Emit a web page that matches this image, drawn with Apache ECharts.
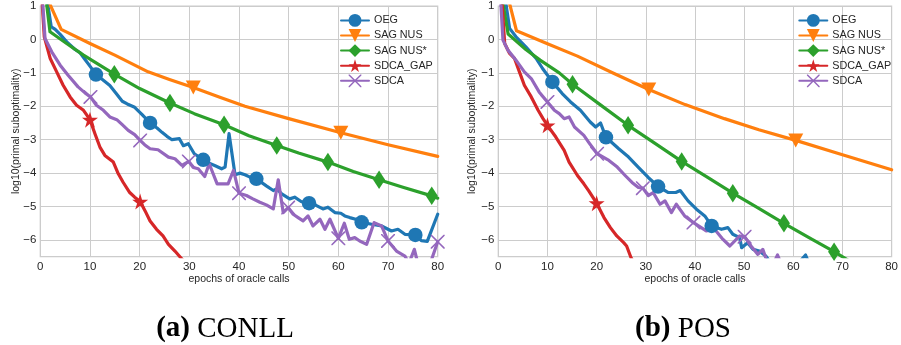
<!DOCTYPE html>
<html><head><meta charset="utf-8">
<script src="https://cdn.jsdelivr.net/npm/echarts@6/dist/echarts.min.js"></script>
<style>html,body{margin:0;padding:0;background:#fff}#c{width:901px;height:345px}</style>
</head><body><div id="c"></div>
<script>
// ---------- data ----------
const seriesNames = ['OEG', 'SAG NUS', 'SAG NUS*', 'SDCA_GAP', 'SDCA'];
const xTicks = [0, 10, 20, 30, 40, 50, 60, 70, 80];
const yTicks = [-6, -5, -4, -3, -2, -1, 0, 1];
const xLabel = 'epochs of oracle calls';
const yLabel = 'log10(primal suboptimality)';
const captions = ['(a)', 'CONLL', '(b)', 'POS'];

// (a) CONLL  — [epoch, log10 suboptimality]
const oegL = [[0,2.5],[2.2,0.38],[3,0.3],[4,0.15],[5.5,-0.1],[7,-0.3],[8,-0.4],[9,-0.6],[10,-0.8],[11.2,-1.05],[12.5,-1.2],[14,-1.38],[15.2,-1.6],[16.5,-1.85],[17.5,-1.93],[19,-2.03],[20.5,-2.25],[22.1,-2.5],[23.5,-2.65],[24.5,-2.78],[25.5,-2.9],[26.5,-3.0],[28,-2.97],[28.8,-3.18],[29.8,-3.12],[31,-3.42],[32.8,-3.6],[34,-3.7],[35.2,-3.78],[36.5,-3.87],[37.2,-3.82],[38,-2.82],[39.2,-4.05],[40.2,-4.0],[41.2,-4.05],[42.2,-4.12],[43.5,-4.17],[45.5,-4.38],[46.9,-4.52],[47.6,-4.47],[48.6,-4.62],[50.2,-4.77],[51.2,-4.72],[52.5,-4.85],[54.1,-4.9],[55.6,-4.97],[56.9,-5.07],[57.9,-5.02],[59.3,-5.18],[60.5,-5.2],[61.3,-5.28],[62.3,-5.33],[63.5,-5.38],[64.7,-5.47],[66.7,-5.53],[68.7,-5.58],[70.7,-5.73],[72,-5.68],[73.4,-5.83],[75.5,-5.85],[76.7,-6.02],[77.9,-6.04],[80,-5.23]];
const oegLMarks = [11.2, 22.1, 32.8, 43.5, 54.1, 64.7, 75.5];
const sagL = [[0,1.7],[4.2,0.3],[10,-0.12],[15,-0.47],[21.7,-0.97],[26,-1.2],[30.8,-1.44],[36,-1.72],[41.2,-2.0],[50,-2.37],[60.5,-2.79],[70,-3.15],[80,-3.5]];
const sagLMarks = [30.8, 60.5];
const sagStarL = [[0,2.6],[1.95,0.23],[5.3,-0.12],[8.7,-0.47],[14.9,-1.04],[20,-1.47],[26.1,-1.9],[31,-2.22],[37,-2.55],[42,-2.88],[47.6,-3.17],[52,-3.4],[57.9,-3.67],[63,-3.95],[68.2,-4.2],[73,-4.42],[78.8,-4.68],[80,-4.75]];
const sagStarLMarks = [14.9, 26.1, 37, 47.6, 57.9, 68.2, 78.8];
const gapL = [[0,2.0],[0.8,0.08],[2,-0.57],[3.3,-0.97],[4.6,-1.37],[6,-1.72],[7.3,-1.97],[8.7,-2.12],[10,-2.4],[11,-2.82],[12,-3.22],[13,-3.47],[14.7,-3.67],[15.7,-4.02],[16.7,-4.28],[18,-4.58],[19,-4.72],[20.1,-4.85],[21.1,-5.13],[22.1,-5.43],[23.4,-5.68],[24.7,-5.88],[25.8,-6.13],[27.1,-6.33],[28.1,-6.5],[29,-6.65],[30,-6.8]];
const gapLMarks = [10, 20.1];
const sdcaL = [[0,2.2],[0.95,0.03],[2.3,-0.37],[4,-0.77],[5.6,-1.07],[7.6,-1.42],[9,-1.6],[10.1,-1.72],[11.3,-1.97],[12.7,-2.12],[14,-2.32],[15.4,-2.4],[16.5,-2.55],[17.7,-2.72],[19,-2.85],[20.1,-3.02],[21,-3.15],[22.1,-3.27],[23.7,-3.3],[25.8,-3.52],[27.1,-3.57],[28.5,-3.77],[29.9,-3.65],[30.8,-3.83],[31.8,-3.87],[33.1,-4.1],[34,-3.72],[35.6,-4.32],[37.8,-4.32],[38.9,-3.92],[40,-4.6],[41.5,-4.67],[42.8,-4.77],[44.2,-4.87],[45.5,-4.95],[46.9,-5.07],[47.9,-4.2],[48.9,-5.18],[49.9,-5.03],[50.9,-5.23],[51.9,-5.33],[52.9,-5.43],[53.9,-5.28],[54.9,-5.58],[56.3,-5.38],[57.3,-5.68],[58.3,-5.38],[60,-5.95],[61.2,-5.5],[62.2,-5.98],[63.3,-5.93],[64.3,-6.03],[65.7,-6.13],[67.2,-5.48],[68.7,-5.58],[70,-6.03],[71.7,-6.33],[73.4,-6.48],[74.2,-6.7],[75.3,-6.28],[76,-6.7],[77,-6.75],[78.5,-6.7],[80,-6.05]];
const sdcaLMarks = [10.1, 20.1, 29.9, 40, 49.9, 60, 70, 80];

// (b) POS
const oegR = [[0,2.6],[2.3,0.33],[3.6,0.08],[5.6,-0.22],[7.7,-0.57],[9,-0.87],[11,-1.27],[13,-1.62],[14.7,-1.87],[16.7,-2.12],[18.7,-2.47],[19.8,-2.62],[20.8,-2.5],[21.9,-2.93],[23.2,-3.1],[24.5,-3.27],[26.5,-3.52],[28.5,-3.83],[30.5,-4.13],[32.5,-4.4],[34.6,-4.58],[36.1,-4.58],[37,-4.52],[38.6,-4.83],[40.3,-5.08],[42,-5.28],[43.4,-5.58],[45.4,-5.68],[46.7,-5.63],[47.7,-5.83],[49.1,-5.93],[49.5,-6.23],[50.7,-6.08],[51.8,-6.28],[53.1,-6.33],[54.4,-6.48],[55.5,-6.7],[57,-6.8],[59,-6.75],[61,-6.7],[62.5,-6.45],[63.5,-6.8],[66,-6.9],[70,-7.0]];
const oegRMarks = [11, 21.9, 32.5, 43.4];
const sagR = [[0,2.4],[3.7,0.26],[10,-0.13],[16.1,-0.5],[23,-0.98],[30.6,-1.5],[38,-1.95],[46,-2.37],[53,-2.7],[60.5,-3.02],[70,-3.45],[80,-3.9]];
const sagRMarks = [30.6, 60.5];
const sagStarR = [[0,1.9],[2,0.16],[5.6,-0.3],[8.5,-0.62],[12.4,-1.0],[15.1,-1.34],[20.7,-1.95],[26.4,-2.57],[31.8,-3.1],[37.3,-3.65],[42.5,-4.12],[47.7,-4.6],[52.9,-5.05],[58.1,-5.5],[63.2,-5.93],[68.3,-6.35],[72,-6.68]];
const sagStarRMarks = [15.1, 26.4, 37.3, 47.7, 58.1, 68.3];
const gapR = [[0,2.8],[1.3,-0.12],[2.3,-0.42],[3.3,-0.57],[4.3,-0.97],[5.3,-1.37],[6.7,-1.72],[8.1,-2.12],[9.1,-2.37],[10,-2.57],[11.7,-2.92],[13.4,-3.32],[14.4,-3.67],[16.1,-4.07],[17.4,-4.32],[18.4,-4.53],[20,-4.9],[21.5,-5.33],[22.8,-5.63],[24.1,-5.88],[25.5,-6.08],[26.1,-6.18],[27,-6.53],[28,-6.8]];
const gapRMarks = [10, 20];
const sdcaR = [[0,2.4],[0.95,-0.02],[1.95,-0.32],[3.6,-0.62],[5.3,-0.97],[6.7,-1.17],[8.3,-1.57],[10,-1.87],[11.4,-2.12],[12.4,-2.22],[13.4,-2.37],[14.4,-2.32],[15.5,-2.62],[17.4,-2.87],[18.5,-3.1],[20.1,-3.42],[22.5,-3.62],[24.2,-3.82],[25.8,-4.07],[27.2,-4.28],[28.5,-4.43],[29.4,-4.45],[30.5,-4.67],[31.5,-4.58],[32.9,-4.93],[33.9,-4.83],[35.2,-5.18],[36.2,-4.93],[37.9,-5.28],[39.7,-5.48],[42.3,-5.73],[44,-5.68],[45.5,-5.95],[47.1,-6.18],[49.1,-5.88],[50.1,-5.9],[51.4,-6.18],[52.8,-6.43],[53.8,-6.28],[54.8,-6.7],[56,-6.7],[56.8,-6.45],[57.8,-6.8],[60,-6.9]];
const sdcaRMarks = [10, 20.1, 29.4, 39.7, 50.1];

// ---------- styling ----------
const colors = ['#1f77b4', '#ff7f0e', '#2ca02c', '#d62728', '#9467bd'];
const STAR = 'path://M50,0 L61.2,34.5 L97.6,34.5 L68.2,55.9 L79.4,90.5 L50,69.1 L20.6,90.5 L31.8,55.9 L2.4,34.5 L38.8,34.5 Z';
const XMARK = 'path://M0,0 L8,0 L50,42 L92,0 L100,0 L100,8 L58,50 L100,92 L100,100 L92,100 L50,58 L8,100 L0,100 L0,92 L42,50 L0,8 Z';
const TRI = 'path://M0,0 L100,0 L50,100 Z';
const symbols = ['circle', TRI, 'diamond', STAR, XMARK];
const symSizes = [14.5, [15, 14], [12, 18.5], 16, 14];
const TXT = '#262626', GRIDC = '#cccccc', FONT = 'Liberation Sans';

function mk(i, g, data, marks) {
  return {
    type: 'line', name: seriesNames[i], xAxisIndex: g, yAxisIndex: g,
    data: data.map(p => marks.indexOf(p[0]) >= 0 ? {value: p, symbolSize: symSizes[i]} : {value: p, symbolSize: 0}),
    symbol: symbols[i], showSymbol: true, showAllSymbol: true,
    lineStyle: {width: 3.2, color: colors[i], join: 'round', cap: 'round'},
    itemStyle: {color: colors[i]}, color: colors[i],
    clip: true, emphasis: {disabled: true}, animation: false
  };
}

const grids = [
  {left: 40.3, top: 6, width: 397.4, height: 250.7},
  {left: 498.3, top: 6, width: 396.7, height: 250.7}
].map(g => Object.assign(g, {show: true, borderColor: GRIDC, borderWidth: 1.25, backgroundColor: '#fff'}));

function xAx(g) {
  return {type: 'value', gridIndex: g, min: 0, max: 80, interval: 10,
    name: xLabel, nameLocation: 'middle', nameGap: 17, nameMoveOverlap: false,
    nameTextStyle: {fontSize: 10.5, color: TXT, fontFamily: FONT},
    axisLine: {show: false}, axisTick: {show: false},
    axisLabel: {fontSize: 11.5, color: TXT, fontFamily: FONT, margin: 4},
    splitLine: {show: true, lineStyle: {color: GRIDC, width: 1}}};
}
function yAx(g, gap) {
  return {type: 'value', gridIndex: g, min: -6.5, max: 1,
    name: yLabel, nameLocation: 'middle', nameGap: gap, nameMoveOverlap: false,
    nameTextStyle: {fontSize: 10.5, color: TXT, fontFamily: FONT},
    axisLine: {show: false}, axisTick: {show: false, customValues: yTicks},
    axisLabel: {fontSize: 11.5, color: TXT, fontFamily: FONT, margin: 4, customValues: yTicks,
      formatter: v => String(v).replace('-', '\u2212')},
    splitLine: {show: true, lineStyle: {color: GRIDC, width: 1}}};
}
function legend(left) {
  return {left: left, top: 14, orient: 'vertical', padding: 0, itemWidth: 28, itemHeight: 16, itemGap: 2.3,
    data: seriesNames, selectedMode: false,
    textStyle: {fontSize: 10.8, color: TXT, fontFamily: FONT}};
}
function caption(x, a, b) {
  return {type: 'text', x: x, y: 329, style: {
    text: '{b|' + a + '} ' + b, align: 'center', verticalAlign: 'middle',
    fontSize: 29, fontFamily: 'Liberation Serif', fill: '#000',
    rich: {b: {fontWeight: 'bold', fontSize: 29, fontFamily: 'Liberation Serif', fill: '#000'}}}};
}

const chart = echarts.init(document.getElementById('c'), null, {renderer: 'canvas'});
chart.setOption({
  animation: false,
  backgroundColor: '#fff',
  grid: grids,
  xAxis: [xAx(0), xAx(1)],
  yAxis: [yAx(0, 19), yAx(1, 21)],
  legend: [legend(340), legend(798.3)],
  series: [
    mk(0, 0, oegL, oegLMarks), mk(1, 0, sagL, sagLMarks), mk(2, 0, sagStarL, sagStarLMarks),
    mk(3, 0, gapL, gapLMarks), mk(4, 0, sdcaL, sdcaLMarks),
    mk(0, 1, oegR, oegRMarks), mk(1, 1, sagR, sagRMarks), mk(2, 1, sagStarR, sagStarRMarks),
    mk(3, 1, gapR, gapRMarks), mk(4, 1, sdcaR, sdcaRMarks)
  ],
  graphic: [caption(225, captions[0], captions[1]), caption(683, captions[2], captions[3])]
});
</script></body></html>
